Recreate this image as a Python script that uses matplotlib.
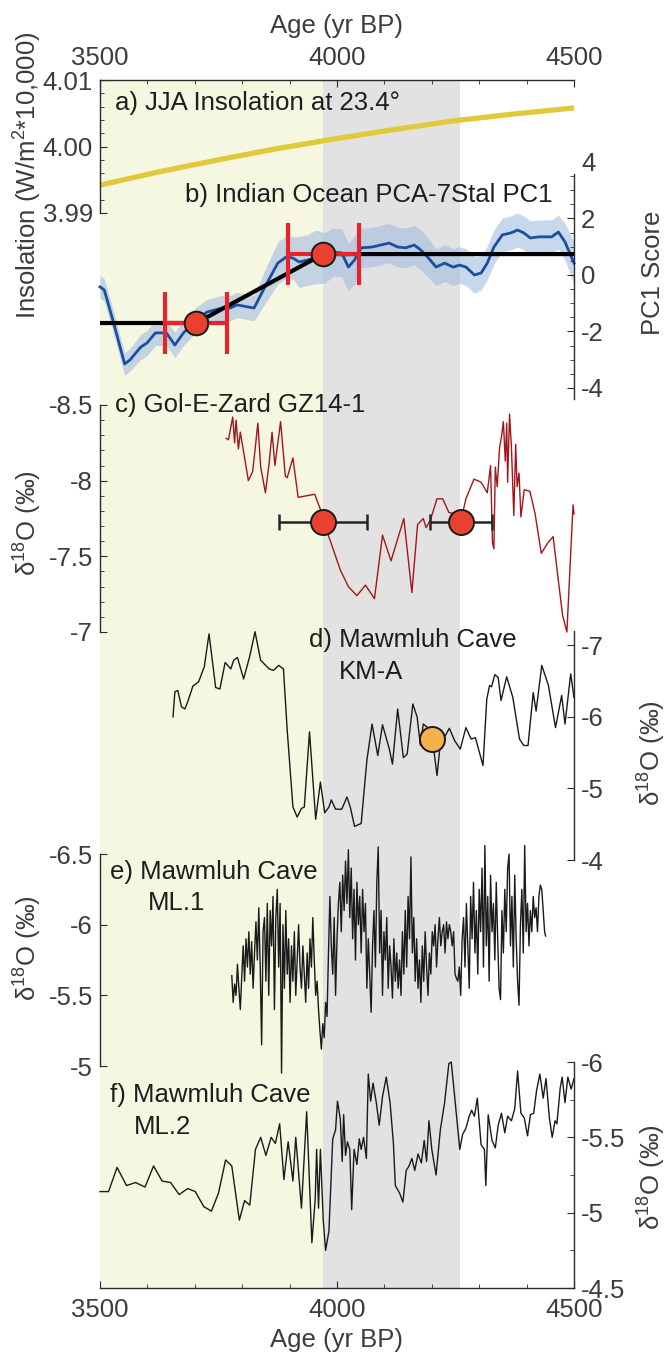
import matplotlib
matplotlib.use('Agg')
import matplotlib.pyplot as plt
from matplotlib.ticker import MultipleLocator, FixedLocator, FormatStrFormatter

plt.rcParams['font.family'] = ['Liberation Sans', 'DejaVu Sans']
plt.rcParams['mathtext.fontset'] = 'custom'
plt.rcParams['mathtext.rm'] = 'Liberation Sans'
plt.rcParams['mathtext.it'] = 'Liberation Sans:italic'
plt.rcParams['mathtext.bf'] = 'Liberation Sans:bold'

# ---------------- data ----------------
age_ticks = [3500, 4000, 4500]
yellow_span = [3500, 3970]
gray_span = [3970, 4260]

# a) JJA insolation at 23.4
ins_age = [3500, 3625, 3750, 3875, 4000, 4125, 4250, 4375, 4500]
ins_val = [3.9942, 3.9962, 3.9980, 3.9997, 4.0012, 4.0026, 4.0039, 4.0049, 4.0058]

# b) Indian Ocean PCA-7Stal PC1
pc1_age = [3500, 3509, 3527, 3552, 3563, 3586, 3599, 3617, 3640, 3658,
           3676, 3703, 3726, 3757, 3775, 3789, 3812, 3825, 3848, 3875,
           3893, 3907, 3920, 3938, 3956, 3974, 3992, 4010, 4024, 4037,
           4051, 4074, 4092, 4110, 4128, 4145, 4163, 4177, 4191, 4209,
           4227, 4245, 4259, 4272, 4290, 4304, 4317, 4331, 4349, 4367,
           4381, 4394, 4408, 4426, 4440, 4453, 4467, 4481, 4500]
pc1_val = [-0.42, -0.53, -1.59, -3.15, -3.01, -2.55, -2.41, -2.05, -2.05, -2.48,
           -2.05, -1.59, -1.31, -1.17, -1.17, -1.06, -1.13, -1.17, -0.42, 0.42,
           0.64, 0.60, 0.46, 0.53, 0.64, 0.60, 0.81, 0.78, 0.28, 0.53,
           0.96, 0.99, 1.06, 1.13, 0.99, 0.96, 1.06, 0.88, 0.64, 0.28,
           0.42, 0.28, 0.35, 0.28, 0.00, 0.07, 0.42, 0.99, 1.42, 1.49,
           1.59, 1.49, 1.31, 1.35, 1.35, 1.35, 1.52, 1.17, 0.42]
pc1_err = [0.40, 0.40, 0.40, 0.40, 0.40, 0.45, 0.45, 0.45, 0.45, 0.45,
           0.45, 0.45, 0.45, 0.45, 0.45, 0.45, 0.45, 0.45, 0.60, 0.75,
           0.75, 0.75, 0.90, 0.90, 0.95, 0.90, 0.85, 0.85, 0.85, 0.85,
           0.70, 0.70, 0.70, 0.70, 0.70, 0.70, 0.70, 0.70, 0.70, 0.65,
           0.65, 0.65, 0.65, 0.65, 0.65, 0.60, 0.60, 0.60, 0.60, 0.60,
           0.60, 0.60, 0.60, 0.60, 0.60, 0.60, 0.60, 0.65, 0.75]
ramp_age = [3500, 3703, 3971, 4500]
ramp_val = [-1.70, -1.70, 0.74, 0.74]
ramp_pt_age = [3703, 3971]
ramp_pt_val = [-1.70, 0.74]
ramp_pt_err = [65, 75]

# c) Gol-E-Zard GZ14-1
gz_age = [3766, 3771, 3780, 3784, 3787, 3792, 3796, 3803, 3813, 3822,
          3827, 3833, 3839, 3849, 3857, 3863, 3869, 3881, 3891, 3895,
          3907, 3918, 3953, 3965, 3971, 3985, 4007, 4024, 4042, 4060,
          4079, 4096, 4114, 4141, 4158, 4170, 4182, 4188, 4197, 4211,
          4223, 4236, 4250, 4261, 4272, 4289, 4304, 4317, 4324, 4328,
          4331, 4334, 4338, 4343, 4347, 4351, 4355, 4358, 4360, 4364,
          4368, 4373, 4377, 4380, 4384, 4388, 4395, 4407, 4418, 4431,
          4445, 4456, 4467, 4476, 4485, 4498, 4500]
gz_val = [-8.28, -8.27, -8.42, -8.25, -8.40, -8.21, -8.32, -8.19, -8.00, -8.06,
          -8.20, -8.38, -8.09, -7.92, -8.12, -8.32, -8.10, -8.39, -8.03, -8.02,
          -8.15, -7.89, -7.91, -7.81, -7.73, -7.61, -7.41, -7.30, -7.24, -7.31,
          -7.22, -7.64, -7.47, -7.75, -7.26, -7.71, -7.75, -7.69, -7.74, -7.88,
          -7.88, -7.79, -7.78, -7.73, -7.88, -8.01, -7.99, -7.92, -8.10, -7.59,
          -7.55, -8.09, -7.96, -8.22, -8.29, -8.39, -8.13, -8.38, -7.99, -8.44,
          -8.22, -7.77, -8.24, -7.96, -8.05, -7.76, -7.94, -7.93, -7.78, -7.52,
          -7.59, -7.63, -7.34, -7.11, -7.00, -7.84, -7.78]
gz_pt_age = [3971, 4261]
gz_pt_val = [-7.73, -7.73]
gz_pt_err = [93, 65]

# d) Mawmluh Cave KM-A
km_age = [3654, 3658, 3664, 3672, 3679, 3685, 3696, 3708, 3720, 3730,
          3744, 3753, 3764, 3776, 3782, 3790, 3803, 3816, 3827, 3839,
          3857, 3866, 3877, 3887, 3895, 3907, 3916, 3925, 3931, 3942,
          3955, 3965, 3974, 3983, 3988, 3997, 4010, 4021, 4028, 4037,
          4051, 4063, 4074, 4086, 4096, 4110, 4117, 4128, 4140, 4148,
          4160, 4169, 4176, 4182, 4191, 4202, 4211, 4219, 4228, 4237,
          4248, 4260, 4272, 4283, 4292, 4308, 4316, 4322, 4326, 4333,
          4340, 4346, 4358, 4371, 4385, 4394, 4403, 4414, 4420, 4432,
          4446, 4461, 4474, 4481, 4493, 4500]
km_val = [-6.00, -6.35, -6.37, -6.14, -6.11, -6.21, -6.43, -6.49, -6.70, -7.16,
          -6.41, -6.39, -6.76, -6.67, -6.79, -6.83, -6.53, -6.85, -7.19, -6.79,
          -6.67, -6.65, -6.72, -6.67, -5.81, -4.74, -4.60, -4.72, -4.74, -5.79,
          -4.57, -5.09, -4.66, -4.74, -4.84, -4.71, -4.71, -4.88, -4.74, -4.47,
          -4.51, -5.39, -5.90, -5.46, -5.89, -5.56, -5.34, -6.11, -5.43, -5.48,
          -6.18, -6.00, -5.60, -5.90, -5.85, -5.66, -5.18, -5.69, -5.73, -5.84,
          -5.67, -5.55, -5.85, -5.69, -5.71, -5.32, -6.25, -6.44, -6.42, -6.59,
          -6.55, -6.23, -6.56, -6.27, -5.69, -5.60, -5.60, -6.34, -6.08, -6.72,
          -6.44, -5.85, -6.30, -5.90, -6.60, -6.27]
km_pt_age = [4200]
km_pt_val = [-5.69]

# e) Mawmluh Cave ML.1
ml1_age = [3778, 3781, 3784, 3787, 3790, 3793, 3796, 3799, 3802, 3805,
           3808, 3811, 3814, 3817, 3820, 3823, 3826, 3829, 3832, 3835,
           3838, 3841, 3844, 3847, 3850, 3853, 3856, 3859, 3862, 3865,
           3868, 3871, 3874, 3877, 3880, 3883, 3886, 3889, 3892, 3895,
           3898, 3901, 3904, 3907, 3910, 3913, 3916, 3919, 3922, 3925,
           3928, 3931, 3934, 3937, 3940, 3943, 3946, 3949, 3952, 3955,
           3958, 3961, 3964, 3967, 3970, 3973, 3976, 3979, 3982, 3985,
           3988, 3991, 3994, 3997, 4000, 4003, 4006, 4009, 4012, 4015,
           4018, 4021, 4024, 4027, 4030, 4033, 4036, 4039, 4042, 4045,
           4048, 4051, 4054, 4057, 4060, 4063, 4066, 4069, 4072, 4075,
           4078, 4081, 4084, 4087, 4090, 4093, 4096, 4099, 4102, 4105,
           4108, 4111, 4114, 4117, 4120, 4123, 4126, 4129, 4132, 4135,
           4138, 4141, 4144, 4147, 4150, 4153, 4156, 4159, 4162, 4165,
           4168, 4171, 4174, 4177, 4180, 4183, 4186, 4189, 4192, 4195,
           4198, 4201, 4204, 4207, 4210, 4213, 4216, 4219, 4222, 4225,
           4228, 4231, 4234, 4237, 4240, 4243, 4246, 4249, 4252, 4255,
           4258, 4261, 4264, 4267, 4270, 4273, 4276, 4279, 4282, 4285,
           4288, 4291, 4294, 4297, 4300, 4303, 4306, 4309, 4312, 4315,
           4318, 4321, 4324, 4327, 4330, 4333, 4336, 4339, 4342, 4345,
           4348, 4351, 4354, 4357, 4360, 4363, 4366, 4369, 4372, 4375,
           4378, 4381, 4384, 4387, 4390, 4393, 4396, 4399, 4402, 4405,
           4408, 4411, 4414, 4417, 4420, 4423, 4426, 4429, 4432, 4435,
           4438, 4440]
ml1_val = [-5.64, -5.45, -5.58, -5.50, -5.72, -5.55, -5.40, -5.62, -5.85, -5.60,
           -5.90, -5.70, -5.95, -5.65, -5.88, -5.55, -5.80, -6.02, -5.75, -6.12,
           -5.70, -5.15, -5.95, -6.05, -5.60, -6.15, -5.50, -6.10, -5.85, -6.20,
           -5.40, -6.05, -6.25, -5.70, -6.15, -4.95, -6.00, -5.55, -6.10, -5.65,
           -5.90, -5.45, -5.85, -5.60, -5.95, -5.50, -5.75, -6.00, -5.70, -5.55,
           -5.85, -5.65, -5.45, -5.80, -5.55, -5.90, -5.70, -6.05, -5.75, -5.50,
           -5.60, -5.40, -5.25, -5.12, -5.30, -5.20, -5.45, -5.35, -5.80, -6.20,
           -5.85, -5.65, -6.05, -5.50, -5.90, -6.15, -6.30, -5.95, -6.35, -6.10,
           -6.45, -6.15, -6.53, -6.05, -6.40, -5.90, -6.25, -5.75, -6.30, -6.00,
           -6.20, -5.80, -6.25, -5.95, -6.15, -5.55, -5.90, -5.65, -5.38, -5.85,
           -6.10, -5.70, -6.30, -6.55, -5.80, -6.10, -5.50, -5.95, -5.75, -6.05,
           -5.55, -5.85, -5.70, -5.48, -5.90, -5.60, -5.80, -5.55, -5.75, -5.50,
           -5.95, -5.65, -6.10, -5.70, -6.20, -5.90, -6.48, -5.80, -6.05, -5.60,
           -5.90, -5.55, -5.75, -5.45, -5.85, -5.60, -5.95, -5.70, -5.50, -5.80,
           -5.65, -5.95, -5.85, -6.00, -5.70, -5.90, -6.05, -5.85, -5.95, -6.00,
           -5.80, -6.02, -5.90, -6.00, -5.95, -5.85, -5.95, -5.65, -5.62, -5.60,
           -5.70, -5.50, -5.90, -6.05, -5.70, -6.15, -5.85, -5.55, -6.20, -5.90,
           -6.30, -5.80, -6.10, -5.65, -6.25, -5.95, -6.40, -5.70, -6.56, -5.85,
           -6.20, -5.60, -6.35, -5.95, -6.15, -5.75, -6.30, -5.90, -5.55, -5.47,
           -6.10, -5.80, -6.25, -5.95, -6.40, -6.50, -5.85, -6.20, -5.70, -6.35,
           -5.90, -5.60, -5.43, -6.00, -6.25, -5.80, -6.56, -5.95, -6.15, -5.85,
           -6.10, -5.95, -6.20, -6.05, -6.12, -5.95, -6.20, -6.28, -6.25, -6.10,
           -5.95, -5.92]

# f) Mawmluh Cave ML.2
ml2_age = [3500, 3518, 3536, 3556, 3575, 3595, 3613, 3631, 3649, 3667,
           3685, 3701, 3719, 3735, 3750, 3765, 3778, 3794, 3805, 3816,
           3828, 3839, 3850, 3861, 3870, 3879, 3888, 3897, 3907, 3913,
           3925, 3936, 3947, 3954, 3957, 3961, 3965, 3971, 3976, 3983,
           3991, 3997, 4001, 4007, 4011, 4014, 4018, 4022, 4027, 4031,
           4036, 4042, 4047, 4051, 4056, 4062, 4066, 4071, 4076, 4083,
           4089, 4096, 4104, 4112, 4119, 4123, 4132, 4139, 4146, 4152,
           4158, 4164, 4171, 4178, 4184, 4189, 4194, 4200, 4209, 4218,
           4227, 4236, 4241, 4247, 4259, 4265, 4272, 4279, 4284, 4290,
           4296, 4304, 4311, 4314, 4319, 4327, 4334, 4340, 4347, 4354,
           4360, 4368, 4375, 4381, 4388, 4395, 4402, 4408, 4415, 4421,
           4428, 4435, 4441, 4448, 4454, 4460, 4464, 4471, 4475, 4481,
           4487, 4494, 4500]
ml2_val = [-5.14, -5.14, -5.30, -5.18, -5.20, -5.17, -5.31, -5.21, -5.20, -5.12,
           -5.16, -5.14, -5.04, -5.01, -5.13, -5.35, -5.31, -4.95, -5.08, -5.05,
           -5.42, -5.50, -5.38, -5.50, -5.46, -5.59, -5.22, -5.47, -5.21, -5.50,
           -5.03, -5.67, -4.80, -5.09, -5.42, -5.03, -5.42, -4.95, -4.75, -4.88,
           -5.49, -5.55, -5.74, -5.62, -5.34, -5.65, -5.38, -5.47, -5.42, -5.02,
           -5.42, -5.32, -5.49, -5.42, -5.50, -5.36, -5.92, -5.74, -5.86, -5.73,
           -5.58, -5.77, -5.90, -5.73, -5.46, -5.18, -5.13, -5.07, -5.28, -5.31,
           -5.36, -5.28, -5.39, -5.33, -5.48, -5.34, -5.61, -5.42, -5.25, -5.55,
           -5.73, -5.99, -6.00, -5.81, -5.42, -5.52, -5.56, -5.64, -5.68, -5.64,
           -5.76, -5.45, -5.42, -5.18, -5.65, -5.48, -5.43, -5.58, -5.66, -5.53,
           -5.64, -5.61, -5.69, -5.94, -5.66, -5.63, -5.51, -5.65, -5.66, -5.81,
           -5.92, -5.76, -5.89, -5.63, -5.50, -5.61, -5.59, -5.83, -5.90, -5.73,
           -5.90, -5.82, -5.89]

# ---------------- layout ----------------
W, H = 670, 1352
FS = 18.5
TXT = '#1e1e1e'
TICKC = '#3c3c3c'
SPC = '#2a2a2a'
X0, X1 = 100, 574

fig = plt.figure(figsize=(W / 100, H / 100), dpi=100)


def add_ax(top, bottom):
    return fig.add_axes([X0 / W, 1 - bottom / H, (X1 - X0) / W, (bottom - top) / H])


def ftext(x, y, s, **kw):
    kw.setdefault('fontsize', FS)
    kw.setdefault('color', TXT)
    return fig.text(x / W, 1 - y / H, s, **kw)


# background axes: shading + top/bottom age axes
ax0 = add_ax(80, 1288)
ax0.set_xlim(3500, 4500)
ax0.set_ylim(0, 1)
ax0.axvspan(*yellow_span, color='#f5f7e1', lw=0)
ax0.axvspan(*gray_span, color='#e2e2e2', lw=0)
for s in ['left', 'right']:
    ax0.spines[s].set_visible(False)
for s in ['top', 'bottom']:
    ax0.spines[s].set_color(SPC)
    ax0.spines[s].set_linewidth(1.0)
ax0.set_yticks([])
ax0.xaxis.set_major_locator(FixedLocator(age_ticks))
ax0.xaxis.set_minor_locator(MultipleLocator(100))
ax0.tick_params(axis='x', which='both', direction='in', top=True, bottom=True,
                labeltop=True, labelbottom=True, labelsize=FS, labelcolor=TICKC,
                color=SPC, pad=7)
ax0.tick_params(axis='x', which='major', length=5)
ax0.tick_params(axis='x', which='minor', length=3)


def panel(top, bottom, ylim, side):
    ax = add_ax(top, bottom)
    ax.set_facecolor('none')
    ax.set_xlim(3500, 4500)
    ax.set_ylim(*ylim)
    for s in ['top', 'bottom', 'left', 'right']:
        ax.spines[s].set_visible(s == side)
    ax.spines[side].set_color(SPC)
    ax.spines[side].set_linewidth(1.0)
    ax.set_xticks([])
    ax.yaxis.set_ticks_position(side)
    ax.tick_params(axis='y', which='both', direction='in', labelsize=FS,
                   labelcolor=TICKC, color=SPC, pad=5)
    ax.tick_params(axis='y', which='major', length=5)
    ax.tick_params(axis='y', which='minor', length=3)
    ax.yaxis.set_major_formatter(FormatStrFormatter('%g'))
    return ax


# a) insolation
ax_a = panel(80, 213, (3.99, 4.01), 'left')
ax_a.yaxis.set_major_locator(FixedLocator([3.99, 4.00, 4.01]))
ax_a.yaxis.set_major_formatter(FormatStrFormatter('%.2f'))
ax_a.yaxis.set_minor_locator(MultipleLocator(0.002))
ax_a.plot(ins_age, ins_val, color='#e2c93c', lw=3.8, solid_capstyle='butt', clip_on=False)

# b) PC1
ax_b = panel(153.5, 399, (-4.39, 4.3), 'right')
ax_b.spines['right'].set_bounds(-4.39, 3.58)
ax_b.yaxis.set_major_locator(FixedLocator([-4, -2, 0, 2, 4]))
ax_b.yaxis.set_minor_locator(FixedLocator([-3.5, -3, -2.5, -1.5, -1, -0.5, 0.5, 1, 1.5, 2.5, 3, 3.5]))
ax_b.yaxis.get_major_ticks()[-1].tick2line.set_visible(False)
lo = [v - e for v, e in zip(pc1_val, pc1_err)]
hi = [v + e for v, e in zip(pc1_val, pc1_err)]
ax_b.fill_between(pc1_age, lo, hi, color='#a3bde0', alpha=0.6, lw=0, clip_on=False)
ax_b.plot(pc1_age, pc1_val, color='#1a4fa0', lw=2.0, clip_on=False)
ax_b.plot(ramp_age, ramp_val, color='black', lw=3.0, solid_capstyle='butt', clip_on=False, zorder=3)
ax_b.errorbar(ramp_pt_age, ramp_pt_val, xerr=ramp_pt_err, fmt='none', ecolor='#e8232b',
              elinewidth=3.0, capsize=22, capthick=3.0, zorder=4, clip_on=False)
ax_b.plot(ramp_pt_age, ramp_pt_val, 'o', ms=17, mfc='#e8412f', mec='#1a1a1a', mew=1.4,
          zorder=5, clip_on=False)

# c) GZ14-1
ax_c = panel(405, 632, (-7, -8.5), 'left')
ax_c.yaxis.set_major_locator(FixedLocator([-8.5, -8, -7.5, -7]))
ax_c.yaxis.set_minor_locator(MultipleLocator(0.1))
ax_c.plot(gz_age, gz_val, color='#a3161a', lw=1.0, clip_on=False)
ax_c.errorbar(gz_pt_age, gz_pt_val, xerr=gz_pt_err, fmt='none', ecolor='#262626',
              elinewidth=1.8, capsize=6, capthick=1.8, zorder=4, clip_on=False)
ax_c.plot(gz_pt_age, gz_pt_val, 'o', ms=18, mfc='#e8412f', mec='#1a1a1a', mew=1.4,
          zorder=5, clip_on=False)

# d) KM-A
ax_d = panel(631, 860, (-4, -7.2), 'right')
ax_d.yaxis.set_major_locator(FixedLocator([-7, -6, -5, -4]))
ax_d.plot(km_age, km_val, color='#1a1a1a', lw=1.0, clip_on=False)
ax_d.plot(km_pt_age, km_pt_val, 'o', ms=18, mfc='#f6b14f', mec='#1a1a1a', mew=1.4,
          zorder=5, clip_on=False)

# e) ML.1
ax_e = panel(854, 1066, (-5, -6.5), 'left')
ax_e.yaxis.set_major_locator(FixedLocator([-6.5, -6, -5.5, -5]))
ax_e.plot(ml1_age, ml1_val, color='#1a1a1a', lw=1.0, clip_on=False)

# f) ML.2
ax_f = panel(1062, 1288, (-4.5, -6), 'right')
ax_f.yaxis.set_major_locator(FixedLocator([-6, -5.5, -5, -4.5]))
ax_f.yaxis.set_minor_locator(MultipleLocator(0.25))
ax_f.plot(ml2_age, ml2_val, color='#1a1a1a', lw=1.0, clip_on=False)

# ---------------- text ----------------
ftext(337, 26, 'Age (yr BP)', ha='center', va='center', color=TICKC)
ftext(337, 1340, 'Age (yr BP)', ha='center', va='center', color=TICKC)

ftext(115, 103, 'a) JJA Insolation at 23.4\u00b0', ha='left', va='center')
ftext(185, 195, 'b) Indian Ocean PCA-7Stal PC1', ha='left', va='center')
ftext(115, 405, 'c) Gol-E-Zard GZ14-1', ha='left', va='center')
ftext(309, 640, 'd) Mawmluh Cave', ha='left', va='center')
ftext(339, 672, 'KM-A', ha='left', va='center')
ftext(110, 872, 'e) Mawmluh Cave', ha='left', va='center')
ftext(148, 903, 'ML.1', ha='left', va='center')
ftext(110, 1095, 'f) Mawmluh Cave', ha='left', va='center')
ftext(134, 1127, 'ML.2', ha='left', va='center')

d18 = '\u03b4$^{18}$O (\u2030)'
ftext(28, 175, 'Insolation (W/m$^{2}$*10,000)', rotation=90, ha='center', va='center', color=TICKC)
ftext(653, 273, 'PC1 Score', rotation=90, ha='center', va='center', color=TICKC)
ftext(28, 523, d18, rotation=90, ha='center', va='center', color=TICKC)
ftext(652, 753, d18, rotation=90, ha='center', va='center', color=TICKC)
ftext(28, 948, d18, rotation=90, ha='center', va='center', color=TICKC)
ftext(652, 1177, d18, rotation=90, ha='center', va='center', color=TICKC)

fig.savefig('out.png', dpi=100)
